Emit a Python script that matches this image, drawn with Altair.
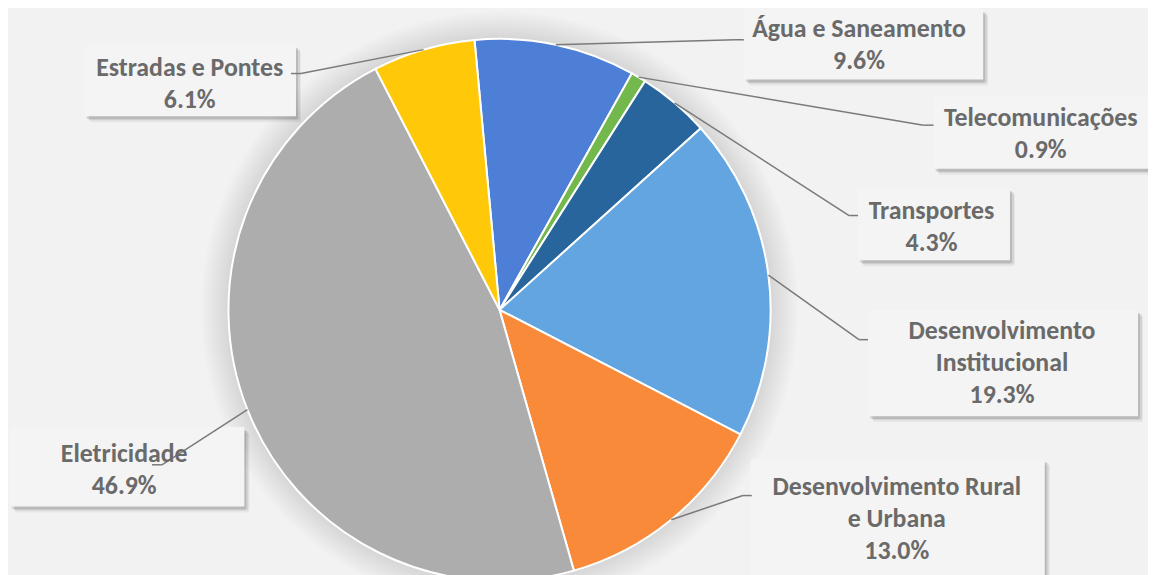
import altair as alt
import numpy as np
import pandas as pd

# ---- data ----
categories = ["Água e Saneamento", "Telecomunicações", "Transportes",
              "Desenvolvimento Institucional", "Desenvolvimento Rural e Urbana",
              "Eletricidade", "Estradas e Pontes"]
values = [9.6, 0.9, 4.3, 19.3, 13.0, 46.9, 6.1]
label_names = ["Água e Saneamento", "Telecomunicações", "Transportes",
               "Desenvolvimento\nInstitucional", "Desenvolvimento Rural\ne Urbana",
               "Eletricidade", "Estradas e Pontes"]
colors = ["#4E7FD6", "#72B84C", "#28659C", "#62A5E0", "#F98A3A", "#ADADAD", "#FFC90A"]

# ---- layout ----
W, H = 1148, 567
CX, CY, R = 495, 302, 273
START = np.deg2rad(-5.3)
BG = "#F2F2F2"
TXT = "#6A6A6A"
LEAD = "#7A7A7A"

# first-line centre, box (x, y, x2, y2), leader elbow, leader end  (chart px)
label_xy = [(857, 19), (1040, 109), (930, 202), (1001, 323), (895, 480), (117, 447), (183, 58)]
boxes = [(741, -1, 982, 70), (932, 87, 1156, 160), (856, 179, 1009, 252), (866, 302, 1138, 409),
         (748, 452, 1044, 580), (2, 420, 238, 500), (77, 35, 290, 107)]
elbows = [(732, 30), (922, 116), (847, 207), (857, 332), (740, 489), (155, 458), (295, 64)]
ends = [(741, 30), (932, 116), (856, 207), (866, 332), (749, 489), (145, 458), (285, 64)]

total = sum(values)
cum = np.cumsum([0] + values)
mid = START + (cum[:-1] + cum[1:]) / 2 / total * 2 * np.pi
sx = CX + R * np.sin(mid)
sy = CY - R * np.cos(mid)

pie_df = pd.DataFrame({"category": categories, "value": values, "idx": range(len(values))})
lab_df = pd.DataFrame({
    "category": categories,
    "text": [f"{n}\n{v:.1f}%" for n, v in zip(label_names, values)],
    "tx": [p[0] for p in label_xy], "ty": [p[1] for p in label_xy],
    "bx": [b[0] for b in boxes], "by": [b[1] for b in boxes],
    "bx2": [b[2] for b in boxes], "by2": [b[3] for b in boxes],
    "sx": sx, "sy": sy,
    "ex": [e[0] for e in elbows], "ey": [e[1] for e in elbows],
    "fx": [e[0] for e in ends], "fy": [e[1] for e in ends],
})

xs = alt.Scale(domain=[0, W], range=[0, W], nice=False, zero=False)
ys = alt.Scale(domain=[0, H], range=[0, H], nice=False, zero=False)

layers = []
# soft shadow around the pie
dummy = alt.Data(values=[{"a": 1}])
for k in range(14):
    r = R + 28 - 2 * k
    layers.append(
        alt.Chart(dummy).mark_arc(radius=r, theta=0, theta2=2 * np.pi, color="black", opacity=0.009)
        .encode(x=alt.value(CX), y=alt.value(CY))
    )

pie = alt.Chart(pie_df).mark_arc(radius=R, stroke="white", strokeWidth=2).encode(
    theta=alt.Theta("value:Q", stack=True, scale=alt.Scale(range=[START, START + 2 * np.pi])),
    color=alt.Color("category:N", scale=alt.Scale(domain=categories, range=colors), legend=None),
    order=alt.Order("idx:Q"),
    x=alt.value(CX), y=alt.value(CY),
)
layers.append(pie)

base = alt.Chart(lab_df)
lead1 = base.mark_rule(color=LEAD, strokeWidth=1.5).encode(
    x=alt.X("sx:Q", scale=xs, axis=None), y=alt.Y("sy:Q", scale=ys, axis=None),
    x2="ex:Q", y2="ey:Q")
lead2 = base.mark_rule(color=LEAD, strokeWidth=1.5).encode(
    x=alt.X("ex:Q", scale=xs, axis=None), y=alt.Y("ey:Q", scale=ys, axis=None),
    x2="fx:Q", y2="fy:Q")

shadows = []
for dx, dy, op in [(5, 6, 0.05), (4, 4, 0.08), (2, 3, 0.12)]:
    shadows.append(
        base.transform_calculate(
            sbx=f"datum.bx + {dx}", sby=f"datum.by + {dy}",
            sbx2=f"datum.bx2 + {dx}", sby2=f"datum.by2 + {dy}")
        .mark_rect(color="black", opacity=op, cornerRadius=2)
        .encode(x=alt.X("sbx:Q", scale=xs, axis=None), y=alt.Y("sby:Q", scale=ys, axis=None),
                x2="sbx2:Q", y2="sby2:Q")
    )
box = base.mark_rect(color="#F4F4F4").encode(
    x=alt.X("bx:Q", scale=xs, axis=None), y=alt.Y("by:Q", scale=ys, axis=None),
    x2="bx2:Q", y2="by2:Q")
text = base.mark_text(font="Carlito, Lato, sans-serif", fontSize=26, fontWeight="bold", color=TXT,
                      lineBreak="\n", lineHeight=32.5, align="center", baseline="middle").encode(
    x=alt.X("tx:Q", scale=xs, axis=None), y=alt.Y("ty:Q", scale=ys, axis=None), text="text:N")

layers += shadows + [box, lead1, lead2, text]

chart = alt.layer(*layers).properties(
    width=W, height=H, background=BG, padding=0,
    autosize=alt.AutoSizeParams(type="none"),
).configure_view(stroke=None)

chart.save("out.html", embed_options={"renderer": "svg", "actions": False})
